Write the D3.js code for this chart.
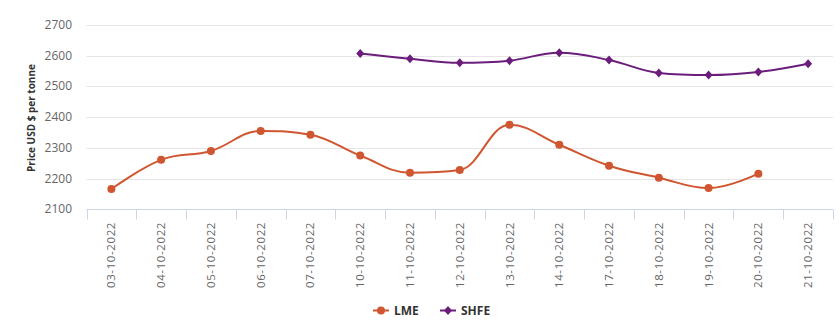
<!DOCTYPE html>
<html><head><meta charset="utf-8">
<script src="https://cdn.jsdelivr.net/npm/d3@7"></script>
<style>body{margin:0;background:#fff}svg{display:block}text{font-family:"Open Sans","DejaVu Sans",sans-serif}</style>
</head><body><svg id="c" width="840" height="334"></svg>
<script>
const categories = ["03-10-2022","04-10-2022","05-10-2022","06-10-2022","07-10-2022","10-10-2022","11-10-2022","12-10-2022","13-10-2022","14-10-2022","17-10-2022","18-10-2022","19-10-2022","20-10-2022","21-10-2022"];
const lme = [2166,2261,2290,2355,2343,2275,2219,2228,2375,2310,2242,2203,2169,2216,null];
const shfe = [null,null,null,null,null,2607,2590,2577,2584,2610,2586,2544,2537,2547,2574];
const yTicks = [2100,2200,2300,2400,2500,2600,2700];
const seriesNames = ["LME","SHFE"];
const colors = ["#cf5630","#6b1d7c"];

const svg = d3.select("#c");
const x = d3.scaleBand().domain(categories).range([86.5,833]);
const y = d3.scaleLinear().domain([2100,2700]).range([209.3,25]);

// grid
svg.append("g").selectAll("line").data(yTicks.slice(1)).join("line")
  .attr("x1",86.5).attr("x2",833).attr("y1",d=>Math.round(y(d))+0.5).attr("y2",d=>Math.round(y(d))+0.5)
  .attr("stroke","#e6e6e6").attr("stroke-width",1);

// y labels
svg.append("g").selectAll("text").data(yTicks).join("text")
  .attr("x",72).attr("y",d=>y(d)+4).attr("text-anchor","end")
  .attr("font-size",12).attr("fill","#666").text(d=>d);

// y title
svg.append("text").attr("transform","translate(35,118) rotate(-90)")
  .attr("text-anchor","middle").attr("font-size",10).attr("font-weight","bold").attr("fill","#333")
  .text("Price USD $ per tonne");

// x axis
const xa = svg.append("g");
xa.append("line").attr("x1",86.5).attr("x2",833).attr("y1",209.5).attr("y2",209.5).attr("stroke","#ccd6eb");
const edges = categories.map(c=>x(c)).concat([833]);
xa.selectAll("line.t").data(edges).join("line").attr("class","t")
  .attr("x1",d=>Math.round(d)+0.5).attr("x2",d=>Math.round(d)+0.5).attr("y1",209.5).attr("y2",219.5).attr("stroke","#ccd6eb");
xa.selectAll("text").data(categories).join("text")
  .attr("transform",d=>`translate(${x(d)+x.bandwidth()/2+4},222) rotate(-90)`)
  .attr("text-anchor","end").attr("font-size",11.5).attr("fill","#666").attr("letter-spacing","0.6")
  .text(d=>d);

// Highcharts-like spline
function spline(pts){
  const sm=1.5, den=sm+1;
  let d=`M${pts[0][0]},${pts[0][1]}`;
  const cont = pts.map((p,i)=>{
    const prev=pts[i-1], next=pts[i+1];
    if(!prev||!next) return null;
    let lx=(sm*p[0]+prev[0])/den, ly=(sm*p[1]+prev[1])/den;
    let rx=(sm*p[0]+next[0])/den, ry=(sm*p[1]+next[1])/den;
    if(rx!==lx){const corr=((ry-ly)*(rx-p[0]))/(rx-lx)+p[1]-ry; ly+=corr; ry+=corr;}
    if(ly>prev[1]&&ly>p[1]){ly=Math.max(prev[1],p[1]);ry=2*p[1]-ly;}
    else if(ly<prev[1]&&ly<p[1]){ly=Math.min(prev[1],p[1]);ry=2*p[1]-ly;}
    if(ry>next[1]&&ry>p[1]){ry=Math.max(next[1],p[1]);ly=2*p[1]-ry;}
    else if(ry<next[1]&&ry<p[1]){ry=Math.min(next[1],p[1]);ly=2*p[1]-ry;}
    return {lx,ly,rx,ry};
  });
  for(let i=1;i<pts.length;i++){
    const a=cont[i-1], b=cont[i], p=pts[i], q=pts[i-1];
    d+=`C${a?a.rx:q[0]},${a?a.ry:q[1]},${b?b.lx:p[0]},${b?b.ly:p[1]},${p[0]},${p[1]}`;
  }
  return d;
}

[lme,shfe].forEach((vals,si)=>{
  const pts = categories.map((c,i)=>[x(c)+x.bandwidth()/2, vals[i]==null?null:y(vals[i])]).filter(p=>p[1]!=null);
  svg.append("path").attr("d",spline(pts)).attr("fill","none").attr("stroke",colors[si]).attr("stroke-width",2);
  const g=svg.append("g");
  if(si===0){
    g.selectAll("circle").data(pts).join("circle").attr("cx",d=>d[0]).attr("cy",d=>d[1]).attr("r",4).attr("fill",colors[si]);
  } else {
    g.selectAll("path").data(pts).join("path").attr("d",d=>`M${d[0]},${d[1]-4.5}L${d[0]+4},${d[1]}L${d[0]},${d[1]+4.5}L${d[0]-4},${d[1]}Z`).attr("fill",colors[si]);
  }
});

// legend
const legX=[373,440];
seriesNames.forEach((n,i)=>{
  const g=svg.append("g").attr("transform",`translate(${legX[i]},310.5)`);
  g.append("line").attr("x1",0).attr("x2",16).attr("stroke",colors[i]).attr("stroke-width",2);
  if(i===0) g.append("circle").attr("cx",8).attr("r",4).attr("fill",colors[i]);
  else g.append("path").attr("d","M8,-4.5L12,0L8,4.5L4,0Z").attr("fill",colors[i]);
  g.append("text").attr("x",21).attr("y",4.5).attr("font-size",12).attr("font-weight","bold").attr("fill","#333").text(n);
});
</script></body></html>
